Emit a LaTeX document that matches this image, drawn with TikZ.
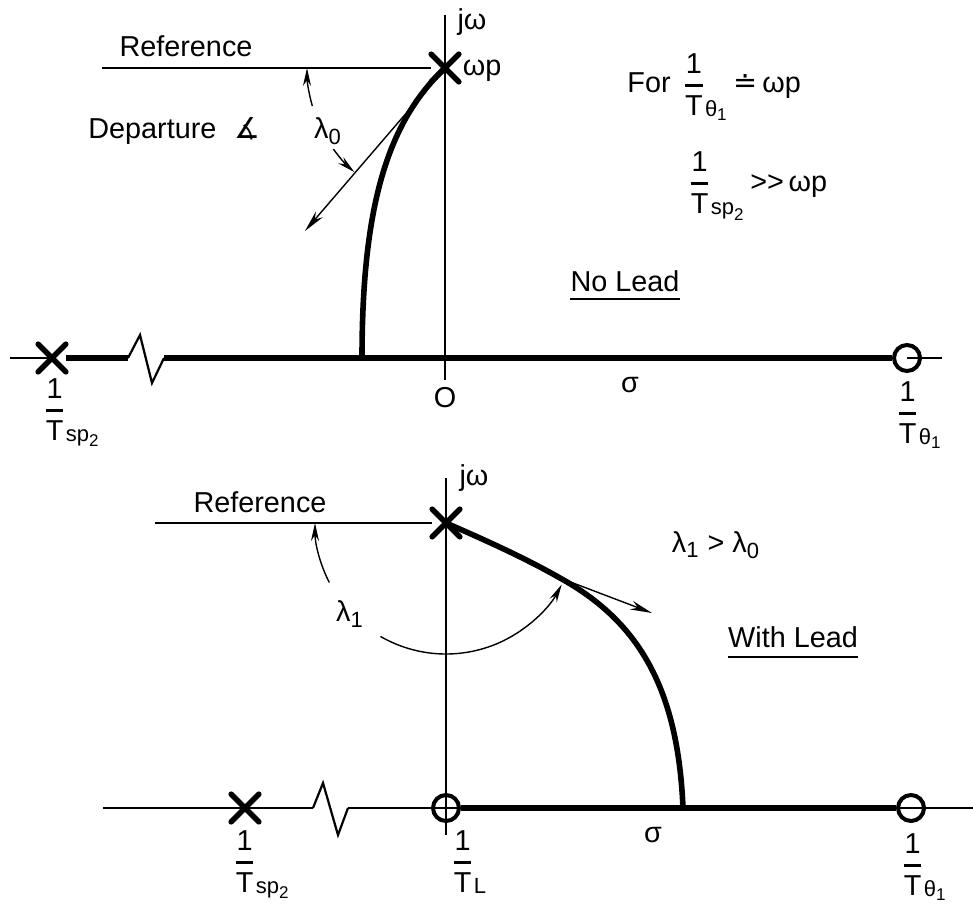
\documentclass[tikz,border=0pt]{standalone}
\usepackage{amsmath}
\usepackage{fontspec}
\setmainfont{Liberation Sans}
\newfontfamily\djv{DejaVu Sans}
\DeclareMathSizes{14.4}{14.4}{11}{8.5}
\usetikzlibrary{arrows.meta,shapes.misc,calc}
\newcommand{\tx}[1]{\text{#1}}
\newcommand{\rcp}[1]{{\genfrac{}{}{1.4pt}{0}{\tx{1}}{\tx{T}}}_{#1}}
\begin{document}
\begin{tikzpicture}[x=0.5pt,y=-0.5pt,
  every node/.style={font=\fontsize{14.4}{17}\selectfont, inner sep=0pt},
  thinline/.style={line width=0.7pt},
  thickline/.style={line width=2.8pt},
  locus/.style={line width=2.8pt},
  zig/.style={line width=1.1pt, line join=miter},
  pole/.style={cross out, draw, line width=2.8pt, line cap=round, minimum size=11pt},
  zero/.style={circle, draw, line width=2pt, minimum size=13pt},
  tip/.style={-{Stealth[length=11pt,width=4.5pt]}},
  angarrow/.style={line width=0.7pt, -{Stealth[length=9pt,width=4pt]}},
  lbl/.style={anchor=north west},
  uline/.style={line width=1.1pt}
]
\useasboundingbox (0,0) rectangle (973,904);

% ---------------- top diagram ----------------
\coordinate (tAxT) at (445,15);
\coordinate (tAxB) at (445,380);
\coordinate (tL) at (10,358);
\coordinate (tR) at (942,358);
\coordinate (tz1) at (128,358);
\coordinate (tz2) at (140,335);
\coordinate (tz3) at (152,383);
\coordinate (tz4) at (164,358);
\coordinate (tbr) at (362,358);
\coordinate (trefL) at (102,68);
\coordinate (tdep) at (305,231);

\node[pole] (ts) at (52,358) {};
\node[zero] (tz) at (907,358) {};
\node[pole] (tp) at (445,68) {};

\draw[thinline] (tAxT) -- (tAxB);
\draw[thinline] (tL) -- (ts.center);
\draw[thickline] (ts) -- (tz1);
\draw[zig] (tz1) -- (tz2) -- (tz3) -- (tz4);
\draw[thickline] (tz4) -- (tz);
\draw[thinline] (tz.center) -- (tR);
\draw[thinline] (trefL) -- (tp);
\draw[locus] (tp.center) .. controls (390,120) and (362,200) .. (tbr);
\draw[thinline, tip] (tp.center) -- (tdep);
\draw[angarrow] (tp.center) ++(164:138) arc[start angle=164, end angle=180, radius=138];
\draw[angarrow] (tp.center) ++(144:138) arc[start angle=144, end angle=131, radius=138];

\node (tjw) at (472,22) {jω};
\node (twp) at (482,71) {ωp};
\node (tref) at (186,46) {Reference};
\node[anchor=west] (tdepl) at (88,131) {Departure\hspace{9pt}{\djv ∡}};
\node (tl0) at (328,131) {$\tx{λ}_{\tx{0}}$};
\node[lbl] (lts) at (43,378) {$\rcp{\tx{sp}_{\tx{2}}}$};
\node[lbl] (ltz) at (896,381) {$\rcp{\tx{θ}_{\tx{1}}}$};
\node (lO) at (445,398) {O};
\node (tsig) at (630,385) {σ};
\node[anchor=base west] (tfor) at (627,93) {For\hspace{6pt}$\rcp{\tx{θ}_{\tx{1}}}$\,{\djv ≐}\,ωp};
\node[anchor=base west] (tineq) at (688,191) {$\rcp{\tx{sp}_{\tx{2}}}$\,>{}>\,ωp};
\node (tnl) at (625,281) {No Lead};
\draw[uline] ([yshift=-3.5pt]tnl.south west) -- ([yshift=-3.5pt]tnl.south east);

% ---------------- bottom diagram ----------------
\coordinate (bAxT) at (446,478);
\coordinate (bAxB) at (446,835);
\coordinate (bL) at (103,808);
\coordinate (bR) at (973,808);
\coordinate (bz1) at (313,808);
\coordinate (bz2) at (323,783);
\coordinate (bz3) at (338,835);
\coordinate (bz4) at (348,808);
\coordinate (bmid) at (560,578);
\coordinate (bbr) at (683,808);
\coordinate (brefL) at (155,523);
\coordinate (btan) at (652,613);

\node[pole] (bs) at (245,808) {};
\node[zero] (bzl) at (446,808) {};
\node[zero] (bzt) at (911,808) {};
\node[pole] (bp) at (446,523) {};

\draw[thinline] (bAxT) -- (bAxB);
\draw[thinline] (bL) -- (bz1);
\draw[zig] (bz1) -- (bz2) -- (bz3) -- (bz4);
\draw[thinline] (bz4) -- (bR);
\draw[thickline] (bzl) -- (bzt);
\draw[thinline] (brefL) -- (bp);
\draw[locus] (bp.center) .. controls (485,540) and (525,558) .. (bmid)
   .. controls (640,622) and (678,690) .. (bbr);
\draw[thinline, tip] (bmid) -- (btan);
\draw[angarrow] (bp.center) ++(153:131) arc[start angle=153, end angle=180, radius=131];
\draw[angarrow] (bp.center) ++(120:131) arc[start angle=120, end angle=28, radius=131];

\node (bjw) at (474,478) {jω};
\node (bref) at (260,502) {Reference};
\node (bl1) at (350,614) {$\tx{λ}_{\tx{1}}$};
\node (bcmp) at (716,545) {$\tx{λ}_{\tx{1}}$ > $\tx{λ}_{\tx{0}}$};
\node (bwl) at (793,637) {With Lead};
\draw[uline] ([yshift=-4.5pt]bwl.south west) -- ([yshift=-4.5pt]bwl.south east);
\node (bsig) at (653,835) {σ};
\node[lbl] (lbs) at (233,830) {$\rcp{\tx{sp}_{\tx{2}}}$};
\node[lbl] (lbl) at (451,830) {$\rcp{\tx{L}}$};
\node[lbl] (lbt) at (901,833) {$\rcp{\tx{θ}_{\tx{1}}}$};
\end{tikzpicture}
\end{document}
